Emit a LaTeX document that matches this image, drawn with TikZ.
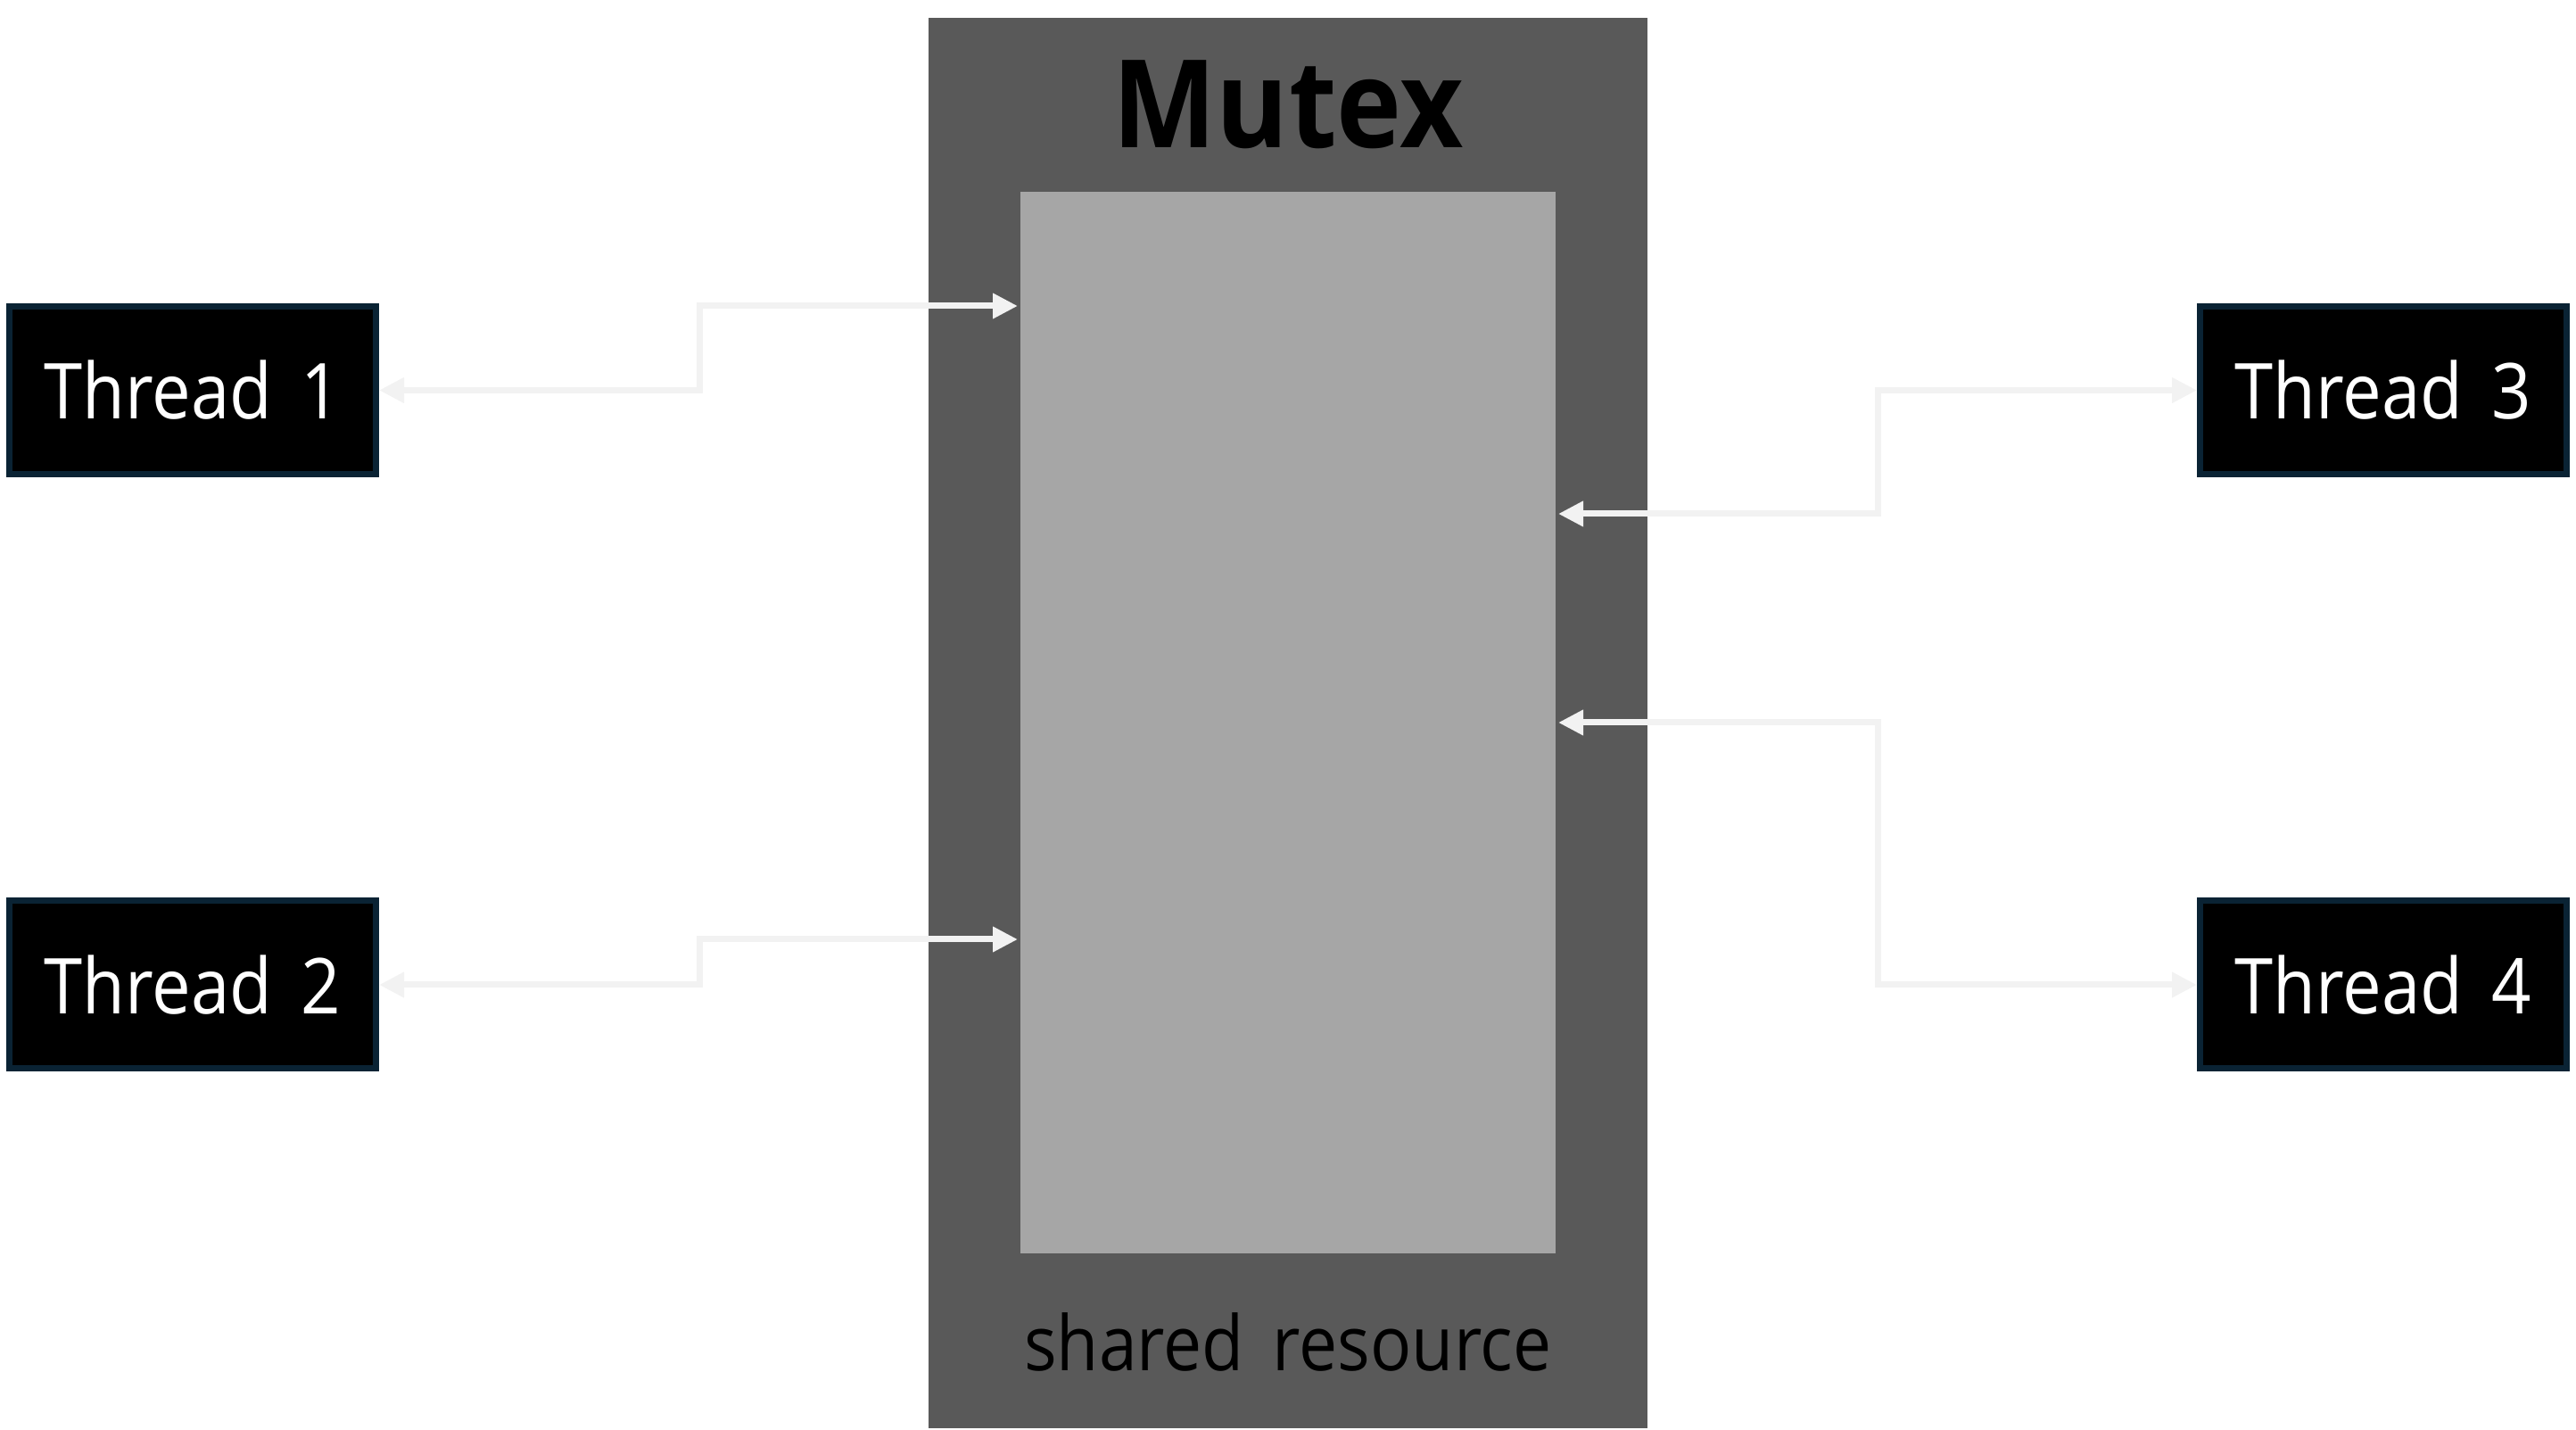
\documentclass[tikz,border=0pt]{standalone}
\usepackage{fontspec}
\setmainfont{Open Sans}[FakeStretch=0.9, WordSpace=1.6]
\definecolor{mutex_c}{HTML}{595959}
\definecolor{res_c}{HTML}{A6A6A6}
\definecolor{line_c}{HTML}{F2F2F2}
\definecolor{edge_c}{HTML}{0A2334}
\usetikzlibrary{arrows.meta,
                calc,
                positioning}

\begin{document}
\begin{tikzpicture}[
			thread/.style = {rectangle, fill=black, draw=edge_c, line width=0.07cm, minimum width=4.11cm, minimum height=1.88cm, inner sep=0pt, text=white, font=\fontsize{24.6}{29}\selectfont},
			block/.style = {rectangle, inner sep=0pt},
			link/.style = {draw=line_c, line width=0.07cm, {Triangle[length=0.28cm,width=0.27cm]}-{Triangle[length=0.28cm,width=0.27cm]}},
			]
			\useasboundingbox (0,0) rectangle (28.88,-16.03);
			% mutex and resource
			\node[block, fill=mutex_c, minimum width=8.06cm, minimum height=15.81cm] (M) at (14.44,-8.105) {};
			\node[block, fill=res_c, minimum width=6.0cm, minimum height=11.9cm] (R) at (14.44,-8.10) {};
			\node[anchor=base, font=\fontsize{39}{45}\selectfont\bfseries] (Mt) at (14.44,-1.66) {Mutex};
			\node[anchor=base, font=\fontsize{24.3}{29}\selectfont] (Rt) at (14.44,-15.36) {shared resource};
			% threads
			\node[thread] (T1) at (2.16,-4.375) {Thread 1};
			\node[thread] (T2) at (2.16,-11.04) {Thread 2};
			\node[thread] (T3) at (26.72,-4.375) {Thread 3};
			\node[thread] (T4) at (26.72,-11.04) {Thread 4};
			% ends on the resource
			\coordinate (p1) at (11.41,-3.43);
			\coordinate (p2) at (11.41,-10.53);
			\coordinate (p3) at (17.47,-5.76);
			\coordinate (p4) at (17.47,-8.10);
			% edges
			\draw[link] (T1.east) -- ++(3.595,0) |- (p1);
			\draw[link] (T2.east) -- ++(3.595,0) |- (p2);
			\draw[link] (T3.west) -- ++(-3.575,0) |- (p3);
			\draw[link] (T4.west) -- ++(-3.575,0) |- (p4);
		\end{tikzpicture}
\end{document}
